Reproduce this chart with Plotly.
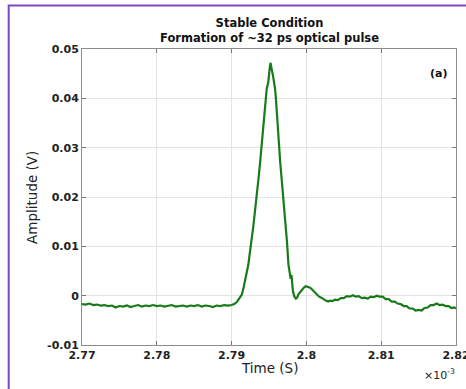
import plotly.graph_objects as go

# ---- data (time in units of 1e-3 s, amplitude in V) ----
base_time = [
    2.7700, 2.7705, 2.7710, 2.7715, 2.7720, 2.7725, 2.7730, 2.7735, 2.7740, 2.7745,
    2.7750, 2.7755, 2.7760, 2.7765, 2.7770, 2.7775, 2.7780, 2.7785, 2.7790, 2.7795,
    2.7800, 2.7805, 2.7810, 2.7815, 2.7820, 2.7825, 2.7830, 2.7835, 2.7840, 2.7845,
    2.7850, 2.7855, 2.7860, 2.7865, 2.7870, 2.7875, 2.7880, 2.7885, 2.7890, 2.7895,
]
base_amp = [
    -0.0017, -0.0018, -0.0016, -0.0019, -0.0018, -0.0020, -0.0019, -0.0021, -0.0020, -0.0024,
    -0.0021, -0.0022, -0.0020, -0.0023, -0.0021, -0.0019, -0.0022, -0.0020, -0.0021, -0.0019,
    -0.0021, -0.0020, -0.0022, -0.0021, -0.0019, -0.0022, -0.0021, -0.0020, -0.0022, -0.0020,
    -0.0021, -0.0019, -0.0022, -0.0020, -0.0021, -0.0023, -0.0020, -0.0021, -0.0019, -0.0020,
]
pulse_time = [
    2.7900, 2.79035, 2.7907, 2.7910, 2.79136, 2.7916, 2.7918, 2.7920, 2.79224, 2.7924,
    2.7926, 2.7928, 2.7929, 2.7931, 2.7932, 2.7934, 2.7936, 2.7938, 2.7940, 2.7942,
    2.7944, 2.7946, 2.7947, 2.7949, 2.7950, 2.7951, 2.7952, 2.7953, 2.7954, 2.7955,
    2.7956, 2.7957, 2.7958, 2.7959, 2.7960, 2.7962, 2.7963, 2.7965, 2.7967, 2.7969,
    2.7971, 2.7972, 2.7974, 2.7976, 2.7978, 2.7979, 2.7980, 2.7981, 2.7982, 2.7984,
    2.7986, 2.7988, 2.7989, 2.7991, 2.7994, 2.7997, 2.7999,
]
pulse_amp = [
    -0.0019, -0.0017, -0.0013, -0.0007, 0.0002, 0.0016, 0.0029, 0.0044, 0.0063, 0.0082,
    0.0103, 0.0122, 0.0140, 0.0168, 0.0185, 0.0220, 0.0238, 0.0268, 0.0300, 0.0330,
    0.0362, 0.0398, 0.0420, 0.0432, 0.0455, 0.0462, 0.0472, 0.0466, 0.0458, 0.0448,
    0.0440, 0.0432, 0.0420, 0.0405, 0.0380, 0.0350, 0.0303, 0.0270, 0.0235, 0.0200,
    0.0178, 0.0150, 0.0110, 0.0063, 0.0040, 0.0034, 0.0042, 0.0022, 0.0009, -0.0002,
    -0.0006, -0.0003, 0.0002, 0.0006, 0.0012, 0.0017, 0.0019,
]
tail_time = [
    2.8002, 2.8005, 2.8008, 2.8011, 2.8014, 2.8017, 2.8020, 2.8023, 2.8026, 2.8029,
    2.8032, 2.8035, 2.8038, 2.8042, 2.8046, 2.8050, 2.8054, 2.8058, 2.8062, 2.8066,
    2.8070, 2.8074, 2.8078, 2.8082, 2.8086, 2.8090, 2.8094, 2.8098, 2.8102, 2.8106,
    2.8110, 2.8114, 2.8118, 2.8122, 2.8126, 2.8130, 2.8134, 2.8138, 2.8142, 2.8146,
    2.8150, 2.8154, 2.8158, 2.8162, 2.8166, 2.8170, 2.8174, 2.8178, 2.8182, 2.8186,
    2.8190, 2.8194, 2.8198, 2.8200,
]
tail_amp = [
    0.0018, 0.0016, 0.0012, 0.0007, 0.0003, -0.0002, -0.0004, -0.0008, -0.0010, -0.0012,
    -0.0010, -0.0011, -0.0008, -0.0009, -0.0005, -0.0005, -0.0001, -0.0002, 0.0001, -0.0002,
    -0.0001, -0.0005, -0.0004, -0.0006, -0.0002, -0.0003, 0.0000, -0.0002, -0.0002, -0.0007,
    -0.0007, -0.0012, -0.0012, -0.0016, -0.0017, -0.0021, -0.0021, -0.0026, -0.0026, -0.0030,
    -0.0029, -0.0030, -0.0025, -0.0024, -0.0019, -0.0019, -0.0016, -0.0019, -0.0018, -0.0021,
    -0.0021, -0.0025, -0.0024, -0.0026,
]

x_ticks = [2.77, 2.78, 2.79, 2.80, 2.81, 2.82]
x_tick_labels = ["2.77", "2.78", "2.79", "2.8", "2.81", "2.82"]
y_ticks = [-0.01, 0, 0.01, 0.02, 0.03, 0.04, 0.05]
y_tick_labels = ["-0.01", "0", "0.01", "0.02", "0.03", "0.04", "0.05"]

time_ms = base_time + pulse_time + tail_time
amplitude = base_amp + pulse_amp + tail_amp

FONT = "DejaVu Sans, Verdana, sans-serif"

fig = go.Figure()
fig.add_trace(go.Scatter(
    x=time_ms, y=amplitude, mode="lines",
    line=dict(color="#187a18", width=2.2),
    showlegend=False, hoverinfo="skip",
))

axis_common = dict(
    showgrid=True, gridcolor="#e4e4e4", gridwidth=1,
    showline=True, linecolor="#8c8c8c", linewidth=1, mirror="ticks",
    ticks="inside", ticklen=4, tickcolor="#777",
    zeroline=False, ticklabeloverflow="allow", automargin=False,
    tickfont=dict(family=FONT, size=11, color="#222"),
)

fig.update_xaxes(range=[2.77, 2.82], tickvals=x_ticks, ticktext=[f"<b>{t}</b>" for t in x_tick_labels], **axis_common)
fig.update_yaxes(range=[-0.01, 0.05], tickvals=y_ticks, ticktext=[f"<b>{t}</b>" for t in y_tick_labels], **axis_common)

L, R, T, B = 81.5, 456.5, 48.5, 345
W, H = 466, 389
pw, ph = R - L, B - T

def px(x):
    return (x - L) / pw

def py(y):
    return (B - y) / ph

annotations = [
    dict(text="<b>Stable Condition</b><br><b>Formation of ~32 ps optical pulse</b>",
         x=px(269), y=py(30), xanchor="center", yanchor="middle",
         font=dict(family=FONT, size=11.5, color="#111")),
    dict(text="Amplitude (V)", x=px(32), y=py(197), textangle=-90,
         xanchor="center", yanchor="middle",
         font=dict(family=FONT, size=13.5, color="#222")),
    dict(text="Time (S)", x=px(270), y=py(368), xanchor="center", yanchor="middle",
         font=dict(family=FONT, size=13.5, color="#222")),
    dict(text="×10<sup>-3</sup>", x=px(458), y=py(375), xanchor="right", yanchor="middle",
         font=dict(family=FONT, size=11, color="#222")),
    dict(text="<b>(a)</b>", x=px(439), y=py(73), xanchor="center", yanchor="middle",
         font=dict(family=FONT, size=11, color="#111")),
]
for a in annotations:
    a.update(xref="paper", yref="paper", showarrow=False)

fig.update_layout(
    width=W, height=H,
    margin=dict(l=L, r=W - R, t=T, b=H - B, autoexpand=False),
    paper_bgcolor="white", plot_bgcolor="white",
    annotations=annotations,
    shapes=[dict(type="rect", xref="paper", yref="paper",
                 x0=px(8), x1=px(480), y0=py(5), y1=py(400),
                 line=dict(color="#8047c0", width=2), layer="above")],
)

fig.write_html("out.html", config={"displayModeBar": False},
               post_script="document.body.style.margin='0';document.body.style.overflow='hidden';")
